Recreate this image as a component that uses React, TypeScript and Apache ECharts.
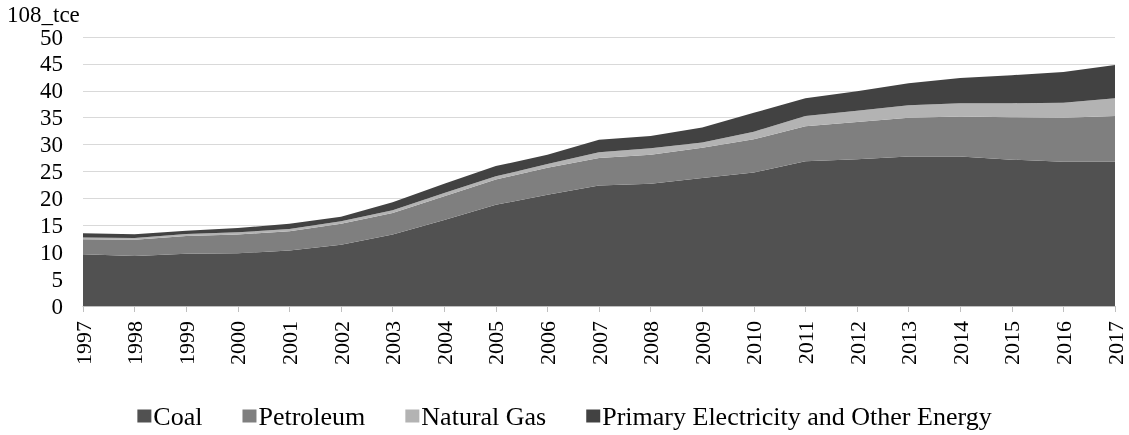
import React, { useEffect, useRef } from "react";
import * as echarts from "echarts";

const years = ["1997","1998","1999","2000","2001","2002","2003","2004","2005","2006","2007","2008","2009","2010","2011","2012","2013","2014","2015","2016","2017"];
const coal = [9.6, 9.3, 9.7, 9.8, 10.3, 11.4, 13.3, 16.0, 18.8, 20.7, 22.4, 22.7, 23.8, 24.8, 26.9, 27.3, 27.8, 27.8, 27.2, 26.8, 26.8];
const petroleum = [2.8, 3.0, 3.3, 3.5, 3.6, 3.9, 4.0, 4.4, 4.7, 5.0, 5.1, 5.4, 5.6, 6.2, 6.5, 6.9, 7.2, 7.4, 7.9, 8.2, 8.5];
const naturalGas = [0.35, 0.35, 0.4, 0.4, 0.4, 0.45, 0.5, 0.6, 0.6, 0.7, 1.1, 1.2, 1.0, 1.4, 1.9, 2.1, 2.3, 2.5, 2.6, 2.8, 3.3];
const primaryOther = [0.75, 0.7, 0.6, 0.8, 1.0, 0.85, 1.5, 1.7, 1.9, 1.7, 2.3, 2.3, 2.8, 3.5, 3.3, 3.6, 4.1, 4.7, 5.2, 5.7, 6.2];
const seriesNames = ["Coal", "Petroleum", "Natural Gas", "Primary Electricity and Other Energy"];
const seriesColors = ["#515151", "#7f7f7f", "#b3b3b3", "#424242"];
const yTicks = [0, 5, 10, 15, 20, 25, 30, 35, 40, 45, 50];
const unitLabel = "108_tce";

const FONT = "Liberation Serif";

export default function App() {
  const ref = useRef<HTMLDivElement>(null);
  useEffect(() => {
    if (!ref.current) return;
    const chart = echarts.init(ref.current, undefined, { renderer: "svg" });
    const data = [coal, petroleum, naturalGas, primaryOther];
    chart.setOption({
      animation: false,
      textStyle: { fontFamily: FONT },
      graphic: [
        {
          type: "text",
          left: 7,
          top: 3,
          style: { text: unitLabel, fontSize: 23, fontFamily: FONT, fill: "#000" },
        },
      ],
      legend: {
        top: 398,
        left: "center",
        icon: "rect",
        itemWidth: 14,
        itemHeight: 13,
        itemGap: 40,
        textStyle: { fontSize: 26, fontFamily: FONT, color: "#000", padding: [0, 0, 0, -3] },
        data: seriesNames,
      },
      grid: { left: 83, right: 14, top: 37, bottom: 129 },
      xAxis: {
        type: "category",
        data: years,
        boundaryGap: false,
        axisLine: { show: true, lineStyle: { color: "#bfbfbf" } },
        axisTick: { show: true, length: 6, lineStyle: { color: "#bfbfbf" }, alignWithLabel: true },
        axisLabel: { rotate: 90, fontSize: 22, fontFamily: FONT, color: "#000", margin: 15, interval: 0 },
      },
      yAxis: {
        type: "value",
        min: yTicks[0],
        max: yTicks[yTicks.length - 1],
        interval: 5,
        axisLine: { show: false },
        axisTick: { show: false },
        splitLine: { lineStyle: { color: "#d9d9d9", width: 1.2 } },
        axisLabel: { fontSize: 23, fontFamily: FONT, color: "#000", margin: 20 },
      },
      series: seriesNames.map((n, i) => ({
        name: n,
        type: "line",
        stack: "total",
        data: data[i],
        symbol: "none",
        lineStyle: { width: 0 },
        itemStyle: { color: seriesColors[i] },
        areaStyle: { color: seriesColors[i], opacity: 1 },
      })),
    });
    return () => chart.dispose();
  }, []);
  return <div ref={ref} style={{ position: "fixed", left: 0, top: 0, width: 1129, height: 435 }} />;
}
